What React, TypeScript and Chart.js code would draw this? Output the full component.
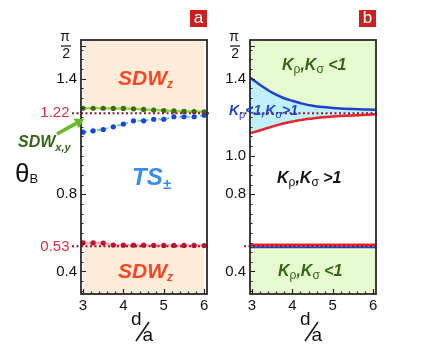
import React, { useEffect, useRef } from 'react';
import { Chart, registerables } from 'chart.js';
Chart.register(...registerables);

// ---------- data ----------
const dValues = [3, 3.25, 3.5, 3.75, 4, 4.25, 4.5, 4.75, 5, 5.25, 5.5, 5.75, 6];
const sdwXYBoundary = [1.246, 1.246, 1.246, 1.245, 1.245, 1.243, 1.240, 1.237, 1.234, 1.232, 1.230, 1.229, 1.228];
const tsBoundary = [1.122, 1.129, 1.136, 1.150, 1.164, 1.181, 1.181, 1.189, 1.189, 1.202, 1.202, 1.202, 1.210];
const sdwZLowerBoundary = [0.548, 0.548, 0.547, 0.537, 0.536, 0.536, 0.536, 0.535, 0.535, 0.535, 0.535, 0.535, 0.534];

const curveD = [2.95, 3.25, 3.5, 3.75, 4, 4.25, 4.5, 4.75, 5, 5.5, 6.07];
const kSigmaUpper = [1.405, 1.36, 1.327, 1.302, 1.285, 1.27, 1.259, 1.252, 1.248, 1.242, 1.238];
const kRhoUpper = [1.116, 1.135, 1.151, 1.166, 1.177, 1.187, 1.193, 1.199, 1.203, 1.209, 1.215];
const lineD = [2.95, 6.07];
const kRhoLower = [0.538, 0.538];
const kSigmaLower = [0.525, 0.525];

const criticalAngles = [1.22, 0.53];
const xTicks = [3, 4, 5, 6];
const yTicksA = [0.4, 0.53, 0.8, 1.22, 1.4, Math.PI / 2];
const yTicksB = [0.4, 0.8, 1.0, 1.4, Math.PI / 2];
const X_MIN = 2.95;
const X_MAX = 6.07;
const Y_MIN = 0.283;
const Y_MAX = 1.6;

// ---------- styles ----------
const SANS = '"Liberation Sans", Arial, sans-serif';
const PEACH = '#feecda';
const LGREEN = '#e6fbd0';
const LBLUE = '#bff0fc';
const DKGREEN = '#336614';
const REFRED = '#8b1a2a';

type Part = { t: string; font: string; color: string; dy?: number };
function drawRich(ctx: CanvasRenderingContext2D, parts: Part[], x: number, y: number) {
  ctx.save();
  ctx.textBaseline = 'alphabetic';
  ctx.textAlign = 'left';
  let cx = x;
  for (const p of parts) {
    ctx.font = p.font;
    ctx.fillStyle = p.color;
    ctx.fillText(p.t, cx, y + (p.dy || 0));
    cx += ctx.measureText(p.t).width;
  }
  ctx.restore();
}

const bi = (s: number) => `italic bold ${s}px ${SANS}`;
const rg = (s: number) => `${s}px ${SANS}`;

function kLabel(color: string, rel: string, big: number, small: number): Part[] {
  return [
    { t: 'K', font: bi(big), color },
    { t: 'ρ', font: rg(small), color, dy: 3 },
    { t: ',K', font: bi(big), color },
    { t: 'σ', font: rg(small), color, dy: 3 },
    { t: rel, font: bi(big), color },
  ];
}

function refLine(ctx: CanvasRenderingContext2D, x0: number, x1: number, y: number) {
  ctx.save();
  ctx.strokeStyle = REFRED;
  ctx.lineWidth = 2;
  ctx.setLineDash([2, 2.5]);
  ctx.beginPath();
  ctx.moveTo(x0, y);
  ctx.lineTo(x1, y);
  ctx.stroke();
  ctx.restore();
}

function frameAndTicks(chart: any, majors: number[]) {
  const { ctx, chartArea, scales } = chart;
  const { left, right, top, bottom } = chartArea;
  const y = scales.y;
  const x = scales.x;
  ctx.save();
  ctx.strokeStyle = '#222';
  ctx.lineWidth = 1.2;
  ctx.beginPath();
  for (let i = 6; i <= 31; i++) {
    const v = i * 0.05;
    const py = Math.round(y.getPixelForValue(v)) + 0.5;
    const major = majors.some((m) => Math.abs(m - v) < 1e-6);
    ctx.moveTo(left, py);
    ctx.lineTo(left + (major ? 5 : 2.5), py);
  }
  const pPi = Math.round(y.getPixelForValue(Math.PI / 2)) + 0.5;
  ctx.moveTo(left, pPi);
  ctx.lineTo(left + 5, pPi);
  for (let i = 15; i <= 30; i++) {
    const v = i * 0.2;
    const px = Math.round(x.getPixelForValue(v)) + 0.5;
    const major = Math.abs(v - Math.round(v)) < 1e-6;
    ctx.moveTo(px, bottom);
    ctx.lineTo(px, bottom - (major ? 5 : 2.5));
  }
  ctx.stroke();
  // frame
  ctx.lineWidth = 1.8;
  ctx.strokeStyle = '#2a2a2a';
  ctx.strokeRect(left, top, right - left, bottom - top);
  // pi/2 fraction bar
  ctx.lineWidth = 1.2;
  ctx.strokeStyle = '#111';
  ctx.beginPath();
  ctx.moveTo(left - 20, pPi - 0.5);
  ctx.lineTo(left - 10, pPi - 0.5);
  ctx.stroke();
  // d/a axis title
  const cx = (left + right) / 2;
  ctx.fillStyle = '#111';
  ctx.font = rg(19);
  ctx.textBaseline = 'alphabetic';
  ctx.fillText('d', cx - 13, 325);
  ctx.fillText('a', cx - 1.5, 341);
  ctx.lineWidth = 1.5;
  ctx.beginPath();
  ctx.moveTo(cx - 8, 341);
  ctx.lineTo(cx + 5, 322);
  ctx.stroke();
  ctx.restore();
}

function panelBox(ctx: CanvasRenderingContext2D, x: number, y: number, letter: string) {
  ctx.save();
  ctx.fillStyle = '#cc2020';
  ctx.fillRect(x, y, 17, 17);
  ctx.fillStyle = '#fff';
  ctx.font = rg(17);
  ctx.textAlign = 'center';
  ctx.textBaseline = 'middle';
  ctx.fillText(letter, x + 8.5, y + 8);
  ctx.restore();
}

const decorA = {
  id: 'decorA',
  afterDatasetsDraw(chart: any) {
    const { ctx, chartArea, scales } = chart;
    refLine(ctx, chartArea.left - 9, chartArea.right + 4, scales.y.getPixelForValue(criticalAngles[0]));
    refLine(ctx, chartArea.left - 9, chartArea.right + 1, scales.y.getPixelForValue(criticalAngles[1]));
  },
  afterDraw(chart: any) {
    const { ctx, chartArea } = chart;
    const { left, right, top } = chartArea;
    frameAndTicks(chart, [0.4, 0.8, 1.4]);
    panelBox(ctx, right - 17, 10, 'a');
    const orange = '#ff4422';
    drawRich(ctx, [{ t: 'SDW', font: bi(21), color: orange }, { t: 'z', font: bi(12), color: orange, dy: 3 }], left + 37, top + 45);
    drawRich(ctx, [{ t: 'SDW', font: bi(21), color: orange }, { t: 'z', font: bi(12), color: orange, dy: 3 }], left + 37, 278);
    const tsBlue = '#3a8cef';
    drawRich(ctx, [{ t: 'TS', font: bi(24), color: tsBlue }, { t: '±', font: bi(15), color: tsBlue, dy: 4 }], left + 51, 185);
    drawRich(ctx, [{ t: 'SDW', font: bi(16), color: DKGREEN }, { t: 'x,y', font: bi(11), color: DKGREEN, dy: 4 }], 18, 147);
    // arrow
    ctx.save();
    ctx.strokeStyle = '#66bb22';
    ctx.fillStyle = '#66bb22';
    ctx.lineWidth = 3.5;
    const x0 = 57, y0 = 134, x1 = 84, y1 = 119;
    const ang = Math.atan2(y1 - y0, x1 - x0);
    const hx = x1 - 9 * Math.cos(ang), hy = y1 - 9 * Math.sin(ang);
    ctx.beginPath();
    ctx.moveTo(x0, y0);
    ctx.lineTo(hx, hy);
    ctx.stroke();
    ctx.beginPath();
    ctx.moveTo(x1, y1);
    ctx.lineTo(hx + 5.5 * Math.sin(ang), hy - 5.5 * Math.cos(ang));
    ctx.lineTo(hx - 5.5 * Math.sin(ang), hy + 5.5 * Math.cos(ang));
    ctx.closePath();
    ctx.fill();
    ctx.restore();
    // theta_B
    drawRich(ctx, [{ t: 'θ', font: rg(26), color: '#111' }, { t: 'B', font: rg(13), color: '#111', dy: 1 }], 15, 182);
  },
};

const decorB = {
  id: 'decorB',
  afterDatasetsDraw(chart: any) {
    const { ctx, chartArea, scales } = chart;
    refLine(ctx, chartArea.left - 10, chartArea.right + 3, scales.y.getPixelForValue(criticalAngles[0]));
    refLine(ctx, chartArea.left - 6, chartArea.right + 1, scales.y.getPixelForValue(criticalAngles[1]));
  },
  afterDraw(chart: any) {
    const { ctx, chartArea } = chart;
    const { left, right, top } = chartArea;
    frameAndTicks(chart, [0.4, 0.8, 1.0, 1.4]);
    panelBox(ctx, right - 17, 10, 'b');
    drawRich(ctx, kLabel(DKGREEN, ' <1', 16, 12), left + 32, top + 30);
    drawRich(ctx, kLabel('#1f44d0', '', 14, 11).map((p) => (p.t === ',K' ? { ...p, t: '<1,K' } : p)).concat([{ t: '>1', font: bi(14), color: '#1f44d0' }]), 229, 115);
    drawRich(ctx, kLabel('#111', ' >1', 16, 12), left + 27, 183);
    drawRich(ctx, kLabel(DKGREEN, ' <1', 16, 12), left + 28, 276);
  },
};

function yScale(ticksList: number[], width: number, redVals: number[]) {
  const isRed = (v: number) => redVals.some((r) => Math.abs(r - v) < 1e-9);
  const isPi = (v: number) => Math.abs(v - Math.PI / 2) < 1e-9;
  return {
    type: 'linear' as const,
    min: Y_MIN,
    max: Y_MAX,
    grid: { display: false, drawTicks: false },
    border: { display: false },
    afterBuildTicks: (axis: any) => {
      axis.ticks = ticksList.map((v) => ({ value: v }));
    },
    afterFit: (axis: any) => {
      axis.width = width;
    },
    ticks: {
      autoSkip: false,
      padding: 4,
      color: (c: any) => (c.tick && isRed(c.tick.value) ? '#e0303c' : '#111'),
      font: (c: any) =>
        c.tick && isPi(c.tick.value)
          ? { family: SANS, size: 14, lineHeight: 1.15 }
          : { family: SANS, size: 15 },
      callback: (v: any) => {
        const n = Number(v);
        if (isPi(n)) return ['π\u2002', '2\u2002'];
        if (isRed(n)) return n.toFixed(2) + '\u2002';
        return n.toFixed(1);
      },
    },
  };
}

function xScale(height: number) {
  return {
    type: 'linear' as const,
    min: X_MIN,
    max: X_MAX,
    grid: { display: false, drawTicks: false },
    border: { display: false },
    afterBuildTicks: (axis: any) => {
      axis.ticks = xTicks.map((v) => ({ value: v }));
    },
    afterFit: (axis: any) => {
      axis.height = height;
    },
    ticks: {
      autoSkip: false,
      maxRotation: 0,
      padding: 3,
      color: '#111',
      font: { family: SANS, size: 15 },
      callback: (v: any) => String(v),
    },
  };
}

const pts = (xs: number[], ys: number[]) => xs.map((x, i) => ({ x, y: ys[i] }));

const commonOpts = {
  responsive: false,
  animation: false as const,
  events: [] as any[],
  plugins: { legend: { display: false }, tooltip: { enabled: false } },
};

function configA(): any {
  return {
    type: 'line',
    data: {
      datasets: [
        {
          label: 'SDWx,y boundary',
          data: pts(dValues, sdwXYBoundary),
          borderColor: '#9ad43c',
          borderWidth: 2.5,
          pointRadius: 2.6,
          pointBackgroundColor: '#3d6b1e',
          pointBorderWidth: 0,
          fill: 'end',
          backgroundColor: PEACH,
        },
        {
          label: 'TS boundary',
          data: pts(dValues, tsBoundary),
          borderColor: '#6cc8c8',
          borderWidth: 2,
          borderDash: [4, 3],
          pointRadius: 2.6,
          pointBackgroundColor: '#1446e0',
          pointBorderWidth: 0,
          fill: false,
        },
        {
          label: 'SDWz lower boundary',
          data: pts(dValues, sdwZLowerBoundary),
          borderColor: '#f7a8b4',
          borderWidth: 2.5,
          pointRadius: 2.6,
          pointBackgroundColor: '#c8102e',
          pointBorderWidth: 0,
          fill: 'start',
          backgroundColor: PEACH,
        },
      ],
    },
    options: {
      ...commonOpts,
      layout: { padding: { left: 0, top: 40, right: 436 - 207, bottom: 0 } },
      scales: { x: xScale(56), y: yScale(yTicksA, 81, [1.22, 0.53]) },
    },
    plugins: [decorA],
  };
}

function configB(): any {
  return {
    type: 'line',
    data: {
      datasets: [
        {
          label: 'K_sigma = 1 (upper)',
          data: pts(curveD, kSigmaUpper),
          borderColor: '#2142c8',
          borderWidth: 2.5,
          pointRadius: 0,
          cubicInterpolationMode: 'monotone',
          fill: 'end',
          backgroundColor: LGREEN,
        },
        {
          label: 'K_rho = 1 (upper)',
          data: pts(curveD, kRhoUpper),
          borderColor: '#e8232a',
          borderWidth: 2.5,
          pointRadius: 0,
          cubicInterpolationMode: 'monotone',
          fill: '-1',
          backgroundColor: LBLUE,
        },
        {
          label: 'K_sigma = 1 (lower)',
          data: pts(lineD, kSigmaLower),
          borderColor: '#2142c8',
          borderWidth: 2,
          pointRadius: 0,
          fill: 'start',
          backgroundColor: LGREEN,
        },
        {
          label: 'K_rho = 1 (lower)',
          data: pts(lineD, kRhoLower),
          borderColor: '#e8232a',
          borderWidth: 2.5,
          pointRadius: 0,
          fill: false,
        },
      ],
    },
    options: {
      ...commonOpts,
      layout: { padding: { left: 0, top: 40, right: 436 - 376, bottom: 0 } },
      scales: { x: xScale(56), y: yScale(yTicksB, 250, []) },
    },
    plugins: [decorB],
  };
}

export default function App() {
  const refA = useRef<HTMLCanvasElement>(null);
  const refB = useRef<HTMLCanvasElement>(null);
  useEffect(() => {
    const a = new Chart(refA.current as HTMLCanvasElement, configA());
    const b = new Chart(refB.current as HTMLCanvasElement, configB());
    return () => {
      a.destroy();
      b.destroy();
    };
  }, []);
  return (
    <div style={{ position: 'fixed', left: 0, top: 0, width: 436, height: 350, background: '#fff' }}>
      <canvas ref={refA} width={436} height={350} style={{ position: 'absolute', left: 0, top: 0 }} />
      <canvas ref={refB} width={436} height={350} style={{ position: 'absolute', left: 0, top: 0 }} />
    </div>
  );
}
